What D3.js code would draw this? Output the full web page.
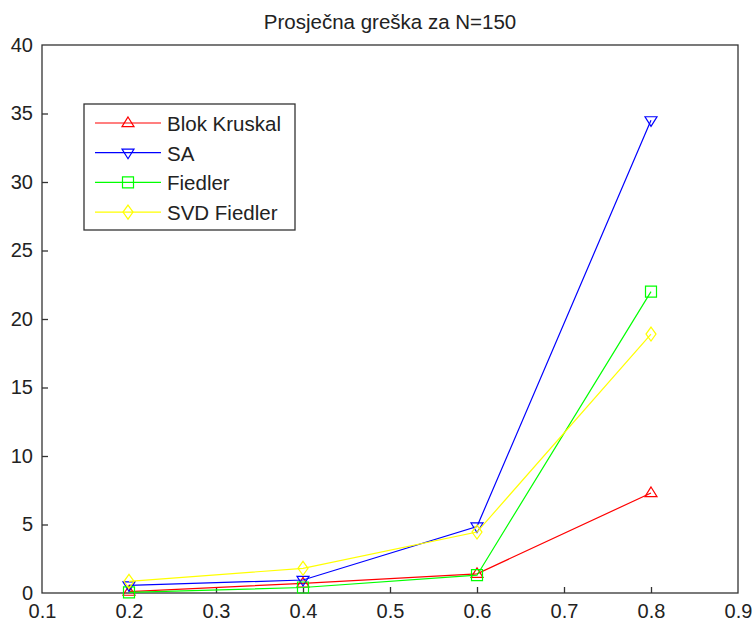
<!DOCTYPE html>
<html><head><meta charset="utf-8">
<script src="https://cdn.jsdelivr.net/npm/d3@7"></script>
<style>body{margin:0;background:#fff}svg{display:block}text{font-family:"Liberation Sans",Arial,sans-serif;fill:#222}</style>
</head><body>
<script>
const xValues = [0.2, 0.4, 0.6, 0.8];
const blokKruskal = [0.1, 0.7, 1.4, 7.3];
const sa = [0.55, 0.95, 4.85, 34.5];
const fiedler = [0.05, 0.4, 1.3, 22.0];
const svdFiedler = [0.85, 1.8, 4.45, 18.9];
const xTicks = [0.1, 0.2, 0.3, 0.4, 0.5, 0.6, 0.7, 0.8, 0.9];
const yTicks = [0, 5, 10, 15, 20, 25, 30, 35, 40];
const seriesNames = ["Blok Kruskal", "SA", "Fiedler", "SVD Fiedler"];
const seriesColors = ["#ff0000", "#0000ff", "#00ff00", "#ffff00"];
const seriesMarkers = ["up", "down", "square", "diamond"];
const title = "Prosječna greška za N=150";

const W = 753, H = 622;
const m = {left: 42, right: 753 - 738, top: 45, bottom: 622 - 593};
const svg = d3.select("body").append("svg").attr("width", W).attr("height", H);
const x = d3.scaleLinear().domain([0.1, 0.9]).range([m.left, W - m.right]);
const y = d3.scaleLinear().domain([0, 40]).range([H - m.bottom, m.top]);

const series = [blokKruskal, sa, fiedler, svdFiedler];

function markerPath(type, cx, cy) {
  const s = 6;
  if (type === "up") return `M${cx},${cy - s}L${cx + s},${cy + s * 0.6}L${cx - s},${cy + s * 0.6}Z`;
  if (type === "down") return `M${cx},${cy + s}L${cx + s},${cy - s * 0.6}L${cx - s},${cy - s * 0.6}Z`;
  if (type === "square") return `M${cx - 5.5},${cy - 5.5}h11v11h-11Z`;
  return `M${cx},${cy - 7}L${cx + 5},${cy}L${cx},${cy + 7}L${cx - 5},${cy}Z`;
}

// axes box
svg.append("rect").attr("x", m.left).attr("y", m.top)
  .attr("width", W - m.right - m.left).attr("height", H - m.bottom - m.top)
  .attr("fill", "#fff").attr("stroke", "#333").attr("stroke-width", 1.3);

const xAxis = svg.append("g").attr("transform", `translate(0,${H - m.bottom})`)
  .call(d3.axisBottom(x).tickValues(xTicks).tickSize(-6).tickPadding(11).tickFormat(d3.format(".1f")));
const yAxis = svg.append("g").attr("transform", `translate(${m.left},0)`)
  .call(d3.axisLeft(y).tickValues(yTicks).tickSize(-6).tickPadding(9).tickFormat(d3.format("d")));
[xAxis, yAxis].forEach(g => {
  g.select(".domain").remove();
  g.selectAll(".tick line").attr("stroke", "#333").attr("stroke-width", 1.3);
  g.selectAll(".tick text").attr("font-size", 20).attr("fill", "#222");
});
xAxis.selectAll(".tick").filter(d => d === 0.1 || d === 0.9).select("line").remove();
yAxis.selectAll(".tick").filter(d => d === 0 || d === 40).select("line").remove();

const line = d3.line().x((d, i) => x(xValues[i])).y(d => y(d));
series.forEach((vals, k) => {
  svg.append("path").datum(vals).attr("d", line).attr("fill", "none")
    .attr("stroke", seriesColors[k]).attr("stroke-width", 1.2);
  svg.selectAll(null).data(vals).enter().append("path")
    .attr("d", (d, i) => markerPath(seriesMarkers[k], x(xValues[i]), y(d)))
    .attr("fill", "none").attr("stroke", seriesColors[k]).attr("stroke-width", 1.2);
});

// legend
const lg = svg.append("g");
lg.append("rect").attr("x", 84).attr("y", 104).attr("width", 211).attr("height", 126)
  .attr("fill", "#fff").attr("stroke", "#333").attr("stroke-width", 1.3);
seriesNames.forEach((name, k) => {
  const cy = 123 + k * 29.7;
  lg.append("line").attr("x1", 95).attr("x2", 161).attr("y1", cy).attr("y2", cy)
    .attr("stroke", seriesColors[k]).attr("stroke-width", 1.2);
  lg.append("path").attr("d", markerPath(seriesMarkers[k], 128, cy))
    .attr("fill", "none").attr("stroke", seriesColors[k]).attr("stroke-width", 1.2);
  lg.append("text").attr("x", 167).attr("y", cy + 8).attr("font-size", 20.5).text(name);
});

svg.append("text").attr("x", (m.left + W - m.right) / 2).attr("y", 29)
  .attr("text-anchor", "middle").attr("font-size", 20.5).text(title);
</script>
</body></html>
